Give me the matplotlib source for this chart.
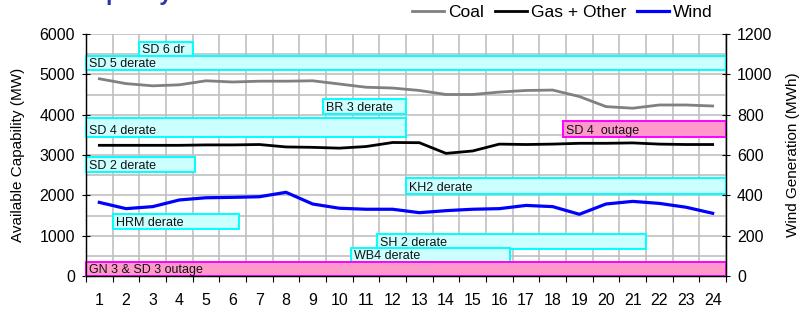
import numpy as np
import matplotlib
matplotlib.use("Agg")
import matplotlib.pyplot as plt
from matplotlib.patches import Rectangle

plt.rcParams['font.family'] = ['Liberation Sans', 'DejaVu Sans']

hours = np.arange(1, 25)

# Available capability (MW)
coal = [4890, 4770, 4715, 4740, 4840, 4810, 4830, 4830, 4840, 4760, 4680, 4660,
        4600, 4500, 4500, 4560, 4600, 4610, 4450, 4200, 4160, 4240, 4240, 4215]
gas_other = [3240, 3240, 3240, 3240, 3250, 3250, 3260, 3200, 3190, 3170, 3210, 3310,
             3305, 3040, 3100, 3270, 3260, 3270, 3290, 3290, 3300, 3270, 3260, 3260]
# Wind generation (MWh)
wind = [365, 334, 344, 377, 388, 390, 393, 415, 357, 336, 331, 331,
        314, 324, 331, 334, 350, 344, 306, 357, 370, 360, 341, 311]

# unit events: label, first hour edge, last hour edge, MW range
event_labels = ["SD 6 dr", "SD 5 derate", "BR 3 derate", "SD 4 derate", "SD 4  outage",
                "SD 2 derate", "KH2 derate", "HRM derate", "SH 2 derate", "WB4 derate",
                "GN 3 & SD 3 outage"]
event_start = [2.5, 0.5, 9.4, 0.5, 18.4, 0.5, 12.5, 1.5, 11.4, 10.45, 0.5]
event_end = [4.5, 24.5, 12.5, 12.5, 24.5, 4.6, 24.5, 6.25, 21.5, 16.4, 24.5]
event_low = [5450, 5100, 4020, 3450, 3450, 2570, 2040, 1170, 680, 340, 0]
event_high = [5800, 5450, 4380, 3910, 3850, 2945, 2430, 1540, 1040, 695, 350]
event_outage = [False, False, False, False, True, False, False, False, False, False, True]

fig = plt.figure(figsize=(8.02, 3.14), dpi=100)
ax = fig.add_axes([86 / 802, 38 / 314, 640 / 802, 242 / 314])
ax2 = ax.twinx()

ax.set_xlim(0.5, 24.5)
ax.set_ylim(0, 6000)
ax2.set_ylim(0, 1200)

ax.set_xticks(np.arange(0.5, 25, 1))
ax.set_xticklabels([])
ax.set_xticks(hours, minor=True)
ax.set_xticklabels([str(h) for h in hours], minor=True, fontsize=11.5)
ax.tick_params(axis='x', which='major', length=4, width=0.8, direction='out')
ax.tick_params(axis='x', which='minor', length=0, pad=12)
ax.set_yticks(np.arange(0, 6001, 1000))
ax.set_yticks(np.arange(0, 6001, 500), minor=True)
ax.tick_params(axis='y', which='major', length=6, direction='inout', labelsize=11.5, pad=5)
ax.tick_params(axis='y', which='minor', length=0)
ax2.set_yticks(np.arange(0, 1201, 200))
ax2.tick_params(axis='y', length=6, direction='inout', labelsize=11.5, pad=5)

ax.grid(True, which='major', axis='x', color='#c0c0c0', lw=1.2)
ax.grid(True, which='both', axis='y', color='#c0c0c0', lw=1.2)
ax.set_axisbelow(True)
for a in (ax, ax2):
    a.spines['top'].set_visible(False)
    for s in ('left', 'right', 'bottom'):
        a.spines[s].set_color('black')
        a.spines[s].set_linewidth(0.9)

for lab, x0, x1, y0, y1, out in zip(event_labels, event_start, event_end,
                                    event_low, event_high, event_outage):
    ec = '#ff00ff' if out else '#00ffff'
    fc = '#ff99cc' if out else '#ccffff'
    ax.add_patch(Rectangle((x0, y0), x1 - x0, y1 - y0, facecolor=fc, edgecolor=ec,
                           lw=1.4, zorder=3, clip_on=False))
    ax.annotate(lab, xy=(x0, y0), xytext=(3, 0), textcoords='offset pixels',
                ha='left', va='bottom', fontsize=9, color='#111111', zorder=4)

l1, = ax.plot(hours, coal, color='#808080', lw=2, zorder=5, label='Coal')
l2, = ax.plot(hours, gas_other, color='black', lw=2, zorder=5, label='Gas + Other')
l3, = ax2.plot(hours, wind, color='#0000ff', lw=2.3, zorder=5, label='Wind')

ax.set_ylabel('Available Capability (MW)', fontsize=11, labelpad=10)
ax2.set_ylabel('Wind Generation (MWh)', fontsize=11, labelpad=10)

fig.legend(handles=[l1, l2, l3], loc='center right', bbox_to_anchor=(713 / 802, 1 - 12 / 314),
           ncol=3, frameon=False, fontsize=12.5, handlelength=1.85, handletextpad=0.25,
           columnspacing=0.6, borderaxespad=0, borderpad=0)

fig.text(77 / 802, 1.0, 'Capacity', va='baseline', ha='left', fontsize=16.5,
         fontweight='bold', color='#3333aa')

fig.savefig('out.png', dpi=100)
